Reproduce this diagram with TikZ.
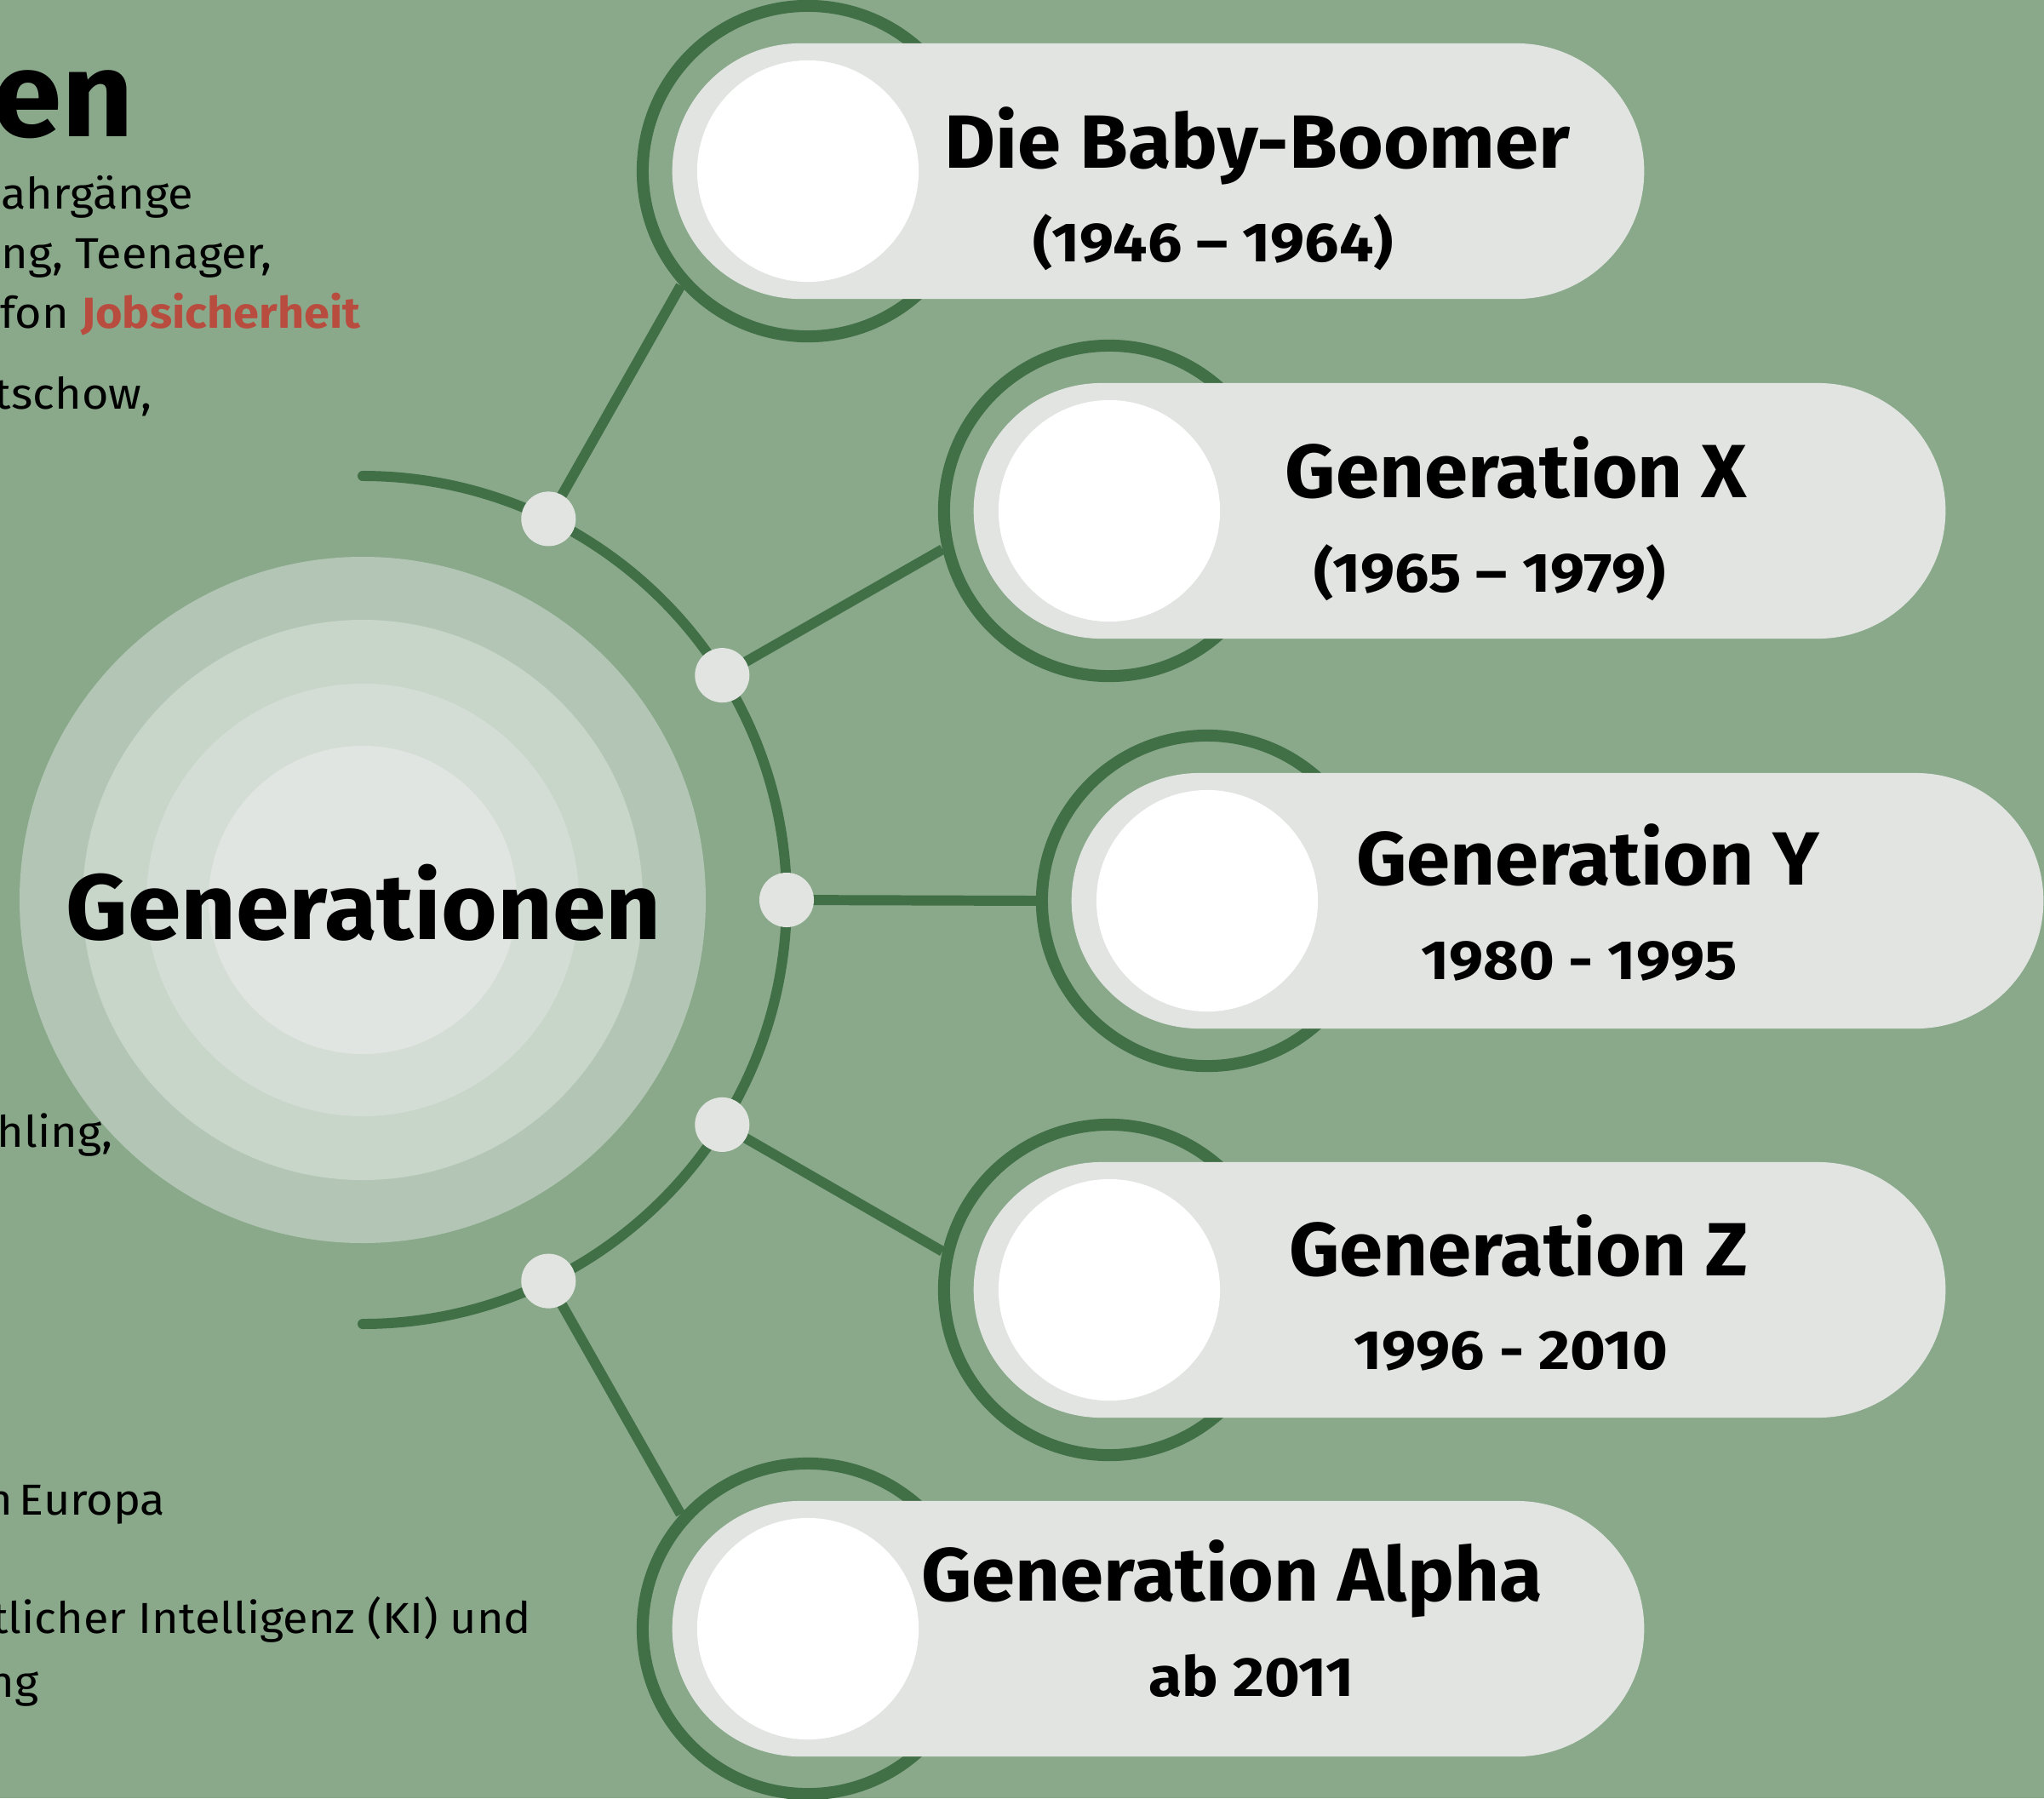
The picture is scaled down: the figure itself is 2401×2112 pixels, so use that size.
\documentclass[tikz,border=0pt]{standalone}
\usepackage{fontspec}
\setmainfont{Fira Sans}
\newfontfamily\ctrfont[FakeStretch=1.035]{Fira Sans}
\newfontfamily\pillfont[FakeStretch=1.04]{Fira Sans}
\newfontfamily\yearfont[FakeStretch=1.10]{Fira Sans}
\newfontfamily\bodyfont[FakeStretch=1.06]{Fira Sans}
\definecolor{bgc}{HTML}{8AA98B}
\definecolor{dark}{HTML}{416F46}
\definecolor{pillc}{HTML}{E1E4E1}
\definecolor{ringA}{HTML}{B3C6B5}
\definecolor{ringB}{HTML}{C8D5C9}
\definecolor{ringC}{HTML}{D4DDD5}
\definecolor{ringD}{HTML}{E1E5E1}
\definecolor{redc}{HTML}{B84D3F}
\pgfdeclarelayer{back}
\pgfdeclarelayer{lines}
\pgfsetlayers{back,lines,main}
\tikzset{
  pillbox/.style={rectangle, fill=pillc, minimum width=11.41cm, minimum height=3cm, rounded corners=1.5cm, inner sep=0pt},
  ringnode/.style={circle, draw=dark, line width=4pt, minimum size=3.88cm, inner sep=0pt},
  holenode/.style={circle, fill=white, minimum size=2.6cm, inner sep=0pt},
  dotnode/.style={circle, fill=pillc, minimum size=0.64cm, inner sep=0pt},
  conn/.style={draw=dark, line width=3.4pt},
  ptitle/.style={anchor=base, inner sep=0pt, font=\pillfont\fontsize{25.2pt}{30pt}\selectfont\bfseries},
  pyear/.style={anchor=base, inner sep=0pt, font=\yearfont\fontsize{18.5pt}{22pt}\selectfont\bfseries},
  body/.style={anchor=base east, inner sep=0pt, font=\bodyfont\fontsize{14.5pt}{17pt}\selectfont},
}
\begin{document}
\begin{tikzpicture}[x=0.01cm, y=-0.01cm]
\useasboundingbox (0,0) rectangle (2401,2112);
\coordinate (C) at (426,1057);
% background and central discs
\begin{pgfonlayer}{back}
  \fill[bgc] (0,0) rectangle (2401,2112);
  \fill[ringA] (C) circle[radius=403];
  \fill[ringB] (C) circle[radius=329];
  \fill[ringC] (C) circle[radius=254];
  \fill[ringD] (C) circle[radius=181];
\end{pgfonlayer}
% rings
\node[ringnode] (r1) at (949,201) {};
\node[ringnode] (r2) at (1303,600) {};
\node[ringnode] (r3) at (1418,1058) {};
\node[ringnode] (r4) at (1303,1515) {};
\node[ringnode] (r5) at (949,1913) {};
% pills
\node[pillbox] (p1) at (1360.5,201) {};
\node[pillbox] (p2) at (1714.5,600) {};
\node[pillbox] (p3) at (1829.5,1058) {};
\node[pillbox] (p4) at (1714.5,1515) {};
\node[pillbox] (p5) at (1360.5,1913) {};
% white circles
\node[holenode] (h1) at (r1) {};
\node[holenode] (h2) at (r2) {};
\node[holenode] (h3) at (r3) {};
\node[holenode] (h4) at (r4) {};
\node[holenode] (h5) at (r5) {};
% dots on the arc
\node[dotnode] (d1) at (644.3,609.4) {};
\node[dotnode] (d2) at (848.3,793.1) {};
\node[dotnode] (d3) at (924,1057) {};
\node[dotnode] (d4) at (848.3,1320.9) {};
\node[dotnode] (d5) at (644.3,1504.6) {};
% arc and connectors
\begin{pgfonlayer}{lines}
  \draw[dark, line width=3.4pt, line cap=round] (C) ++(0,-498) arc[start angle=-90, end angle=90, radius=498];
  \draw[conn] (d1.center) -- (r1.222);
  \draw[conn] (d2.center) -- (r2.193);
  \draw[conn] (d3.center) -- (r3.180);
  \draw[conn] (d4.center) -- (r4.167);
  \draw[conn] (d5.center) -- (r5.138);
\end{pgfonlayer}
% central title
\node[anchor=base, inner sep=0pt, font=\ctrfont\fontsize{31pt}{36pt}\selectfont\bfseries] (title) at (427,1103) {Generationen};
% pill texts
\node[ptitle] (t1) at (1477,197) {Die Baby-Boomer};
\node[pyear] (y1) at (1425,307) {(1946 – 1964)};
\node[ptitle] (t2) at (1781,584) {Generation X};
\node[pyear] (y2) at (1750,695) {(1965 – 1979)};
\node[ptitle] (t3) at (1865,1039) {Generation Y};
\node[pyear] (y3) at (1855,1150) {1980 - 1995};
\node[ptitle] (t4) at (1784,1498) {Generation Z};
\node[pyear] (y4) at (1775,1608) {1996 - 2010};
\node[ptitle] (t5) at (1447,1880) {Generation Alpha};
\node[pyear] (y5) at (1470,1992) {ab 2011};
% left side texts (cut off at the left edge, as in the reference)
\node[anchor=base east, inner sep=0pt, font=\ctrfont\fontsize{40.4pt}{48pt}\selectfont\bfseries] (h) at (158,160) {en};
\node[body] (l1) at (228,245) {ahrgänge};
\node[body] (l2) at (320,315) {ng, Teenager,};
\node[body] (l3) at (424,385) {fon {\bfseries\color{redc}Jobsicherheit}};
\node[body] (l4) at (179,480) {tschow,};
\node[body] (l5) at (133,1347) {hling,};
\node[body] (l6) at (195,1779) {n\hspace{-0.12em} Europa};
\node[body] (l7) at (625,1918) {tlicher Intelligenz (KI) und};
\node[body] (l8) at (46,1993) {ng};
\end{tikzpicture}
\end{document}
